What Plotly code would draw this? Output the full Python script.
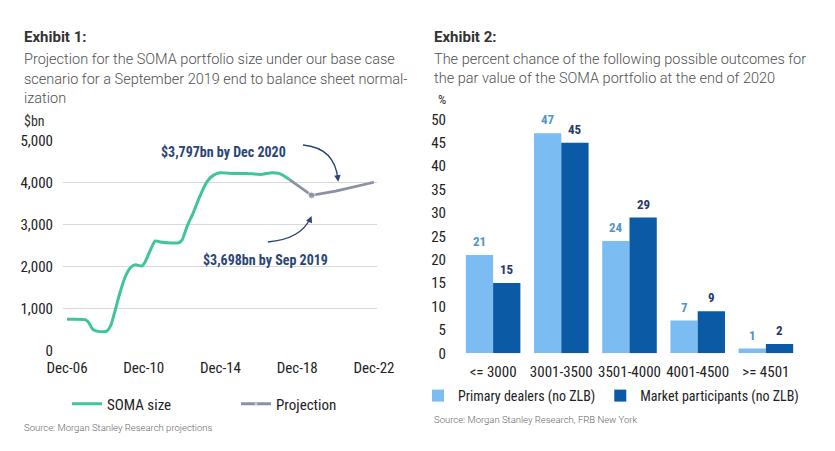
import plotly.graph_objects as go

W, H = 835, 451

# ---------------- data: Exhibit 1 ----------------
soma_years = [2006.92, 2007.86, 2008.03, 2008.29, 2008.64, 2008.99, 2009.2, 2009.43, 2009.69,
              2009.95, 2010.21, 2010.47, 2010.82, 2010.99, 2011.26, 2011.52, 2011.78, 2012.3,
              2012.73, 2012.91, 2013.17, 2013.52, 2013.87, 2014.21, 2014.56, 2014.91, 2015.61,
              2016.3, 2017.0, 2017.61, 2017.96, 2018.22, 2018.5]
soma_values = [745, 735, 677, 494, 450, 462, 597, 955, 1393,
               1752, 1967, 2046, 2014, 2110, 2389, 2611, 2588, 2564,
               2564, 2627, 2946, 3304, 3702, 4021, 4180, 4236, 4220,
               4220, 4196, 4236, 4220, 4164, 4080]
proj_years = [2018.5, 2019.67, 2020.92, 2022.92]
proj_values = [4080, 3698, 3797, 4010]
left_tickvals = [2006.92, 2010.92, 2014.92, 2018.92, 2022.92]
left_ticktext = ["Dec-06", "Dec-10", "Dec-14", "Dec-18", "Dec-22"]
left_yticks = [0, 1000, 2000, 3000, 4000, 5000]

# ---------------- data: Exhibit 2 ----------------
categories = ["<= 3000", "3001-3500", "3501-4000", "4001-4500", ">= 4501"]
primary_dealers = [21, 47, 24, 7, 1]
market_participants = [15, 45, 29, 9, 2]
right_yticks = [0, 5, 10, 15, 20, 25, 30, 35, 40, 45, 50]

NARROW = "Roboto Condensed, Liberation Sans Narrow, Arial Narrow, Roboto, sans-serif"
ROBOTO = "Roboto, sans-serif"
GREEN = "#40c49b"
GREY = "#8b90a5"
LIGHT = "#7bbdf3"
DARK = "#0b5aa6"
NAVY = "#2b4575"
TICK = "#222222"


def px(x):
    return x / W


def py(y):
    return 1 - y / H


fig = go.Figure()

fig.add_trace(go.Scatter(x=soma_years, y=soma_values, mode="lines", name="SOMA size",
                         line=dict(color=GREEN, width=3, shape="spline", smoothing=0.6),
                         legend="legend", xaxis="x", yaxis="y"))
sel = proj_values.index(3698)
fig.add_trace(go.Scatter(x=proj_years, y=proj_values, mode="lines+markers", name="Projection",
                         line=dict(color=GREY, width=2.8),
                         marker=dict(color=GREY, size=[7 if i == sel else 0 for i in range(len(proj_years))]),
                         legend="legend", xaxis="x", yaxis="y"))

fig.add_trace(go.Bar(x=categories, y=primary_dealers, name="Primary dealers (no ZLB)",
                     marker=dict(color=LIGHT, line=dict(width=0)), legend="legend2",
                     xaxis="x2", yaxis="y2"))
fig.add_trace(go.Bar(x=categories, y=market_participants, name="Market participants (no ZLB)",
                     marker=dict(color=DARK, line=dict(width=0)), legend="legend2",
                     xaxis="x2", yaxis="y2"))

annotations = []
# bar value labels
for c, v in zip(categories, primary_dealers):
    annotations.append(dict(x=c, y=v, xref="x2", yref="y2", text=str(v), showarrow=False,
                            xshift=-13.6, yshift=4, yanchor="bottom",
                            font=dict(family=NARROW, size=13, color="#4f95cc", weight="bold")))
for c, v in zip(categories, market_participants):
    annotations.append(dict(x=c, y=v, xref="x2", yref="y2", text=str(v), showarrow=False,
                            xshift=13.6, yshift=4, yanchor="bottom",
                            font=dict(family=NARROW, size=13, color="#1f3a68", weight="bold")))

# titles
def txt(x, y, s, size=15, weight="normal", color="#444", family=ROBOTO, xanchor="left"):
    annotations.append(dict(x=px(x), y=py(y), xref="paper", yref="paper", text=s, showarrow=False,
                            xanchor=xanchor, yanchor="middle",
                            font=dict(family=family, size=size, color=color, weight=weight)))

txt(22, 37, "Exhibit 1:", 15, "bold", "#333")
txt(22, 59, "Projection for the SOMA portfolio size under our base case", 14.5, 300, "#505050")
txt(22, 79, "scenario for a September 2019 end to balance sheet normal-", 14.5, 300, "#505050")
txt(22, 98, "ization", 14.5, 300, "#505050")
txt(22, 121, "$bn", 14, "normal", "#333", NARROW)

txt(432, 37, "Exhibit 2:", 15, "bold", "#333")
txt(432, 59, "The percent chance of the following possible outcomes for", 14.5, 300, "#505050")
txt(432, 78, "the par value of the SOMA portfolio at the end of 2020", 14.5, 300, "#505050")
txt(436, 100, "%", 13, "normal", "#333", NARROW)

txt(22, 427, "Source: Morgan Stanley Research projections", 9.5, 300, "#666")
txt(432, 419, "Source: Morgan Stanley Research, FRB New York", 9.5, 300, "#666")

# callouts on Exhibit 1
txt(223.5, 152, "$3,797bn by Dec 2020", 14, "bold", NAVY, NARROW, "center")
txt(265, 260, "$3,698bn by Sep 2019", 14, "bold", NAVY, NARROW, "center")

annotations.append(dict(x=2021.06, y=4023, xref="x", yref="y", ax=-1, ay=-8, text="",
                        showarrow=True, arrowhead=2, arrowsize=1, arrowwidth=1.3, arrowcolor=NAVY))
annotations.append(dict(x=2019.67, y=3205, xref="x", yref="y", ax=-3, ay=7, text="",
                        showarrow=True, arrowhead=2, arrowsize=1, arrowwidth=1.3, arrowcolor=NAVY))

shapes = [
    dict(type="path", xref="x", yref="y", path="M 2019.22,4898 Q 2020.89,4826 2021.04,4080",
         line=dict(color=NAVY, width=1.3)),
    dict(type="path", xref="x", yref="y", path="M 2017.39,2586 Q 2019.1,2650 2019.6,3150",
         line=dict(color=NAVY, width=1.3)),
]

fig.update_layout(
    width=W, height=H, autosize=False,
    margin=dict(l=0, r=0, t=0, b=0, autoexpand=False),
    paper_bgcolor="white", plot_bgcolor="white",
    barmode="group", bargap=0.2, bargroupgap=0,
    annotations=annotations, shapes=shapes,
    xaxis=dict(domain=[px(63), px(377)], range=[2006.71, 2023.08], tickvals=left_tickvals,
               ticktext=left_ticktext, showgrid=False, zeroline=False, showline=False, ticks="",
               tickfont=dict(family=NARROW, size=15, color=TICK), ticklabelstandoff=6, anchor="y",
               automargin=False),
    yaxis=dict(domain=[py(351.34), py(139.86)], range=[-20, 5020], tickvals=left_yticks,
               tickformat=",", showgrid=True, gridcolor="#d9d9d9", gridwidth=1, zeroline=False,
               showline=False, ticks="", tickfont=dict(family=NARROW, size=15, color=TICK),
               ticklabelstandoff=9, anchor="x", automargin=False),
    xaxis2=dict(domain=[px(459), px(800)], type="category", range=[-0.5, 4.5], showgrid=False,
                zeroline=False, showline=False, ticks="", anchor="y2", automargin=False,
                tickfont=dict(family=NARROW, size=15, color=TICK), ticklabelstandoff=8),
    yaxis2=dict(domain=[py(353.3), py(119.3)], range=[0, 50], tickvals=right_yticks,
                showgrid=False, zeroline=False, showline=False, ticks="", anchor="x2", automargin=False,
                tickfont=dict(family=NARROW, size=15, color=TICK), ticklabelstandoff=12),
    legend=dict(orientation="h", x=px(67), y=py(404), xanchor="left", yanchor="middle",
                font=dict(family=NARROW, size=15, color=TICK), entrywidth=124, bgcolor="rgba(0,0,0,0)",
                itemwidth=30, tracegroupgap=0),
    legend2=dict(orientation="h", x=px(418), y=py(396), xanchor="left", yanchor="middle",
                 font=dict(family=NARROW, size=14, color=TICK), bgcolor="rgba(0,0,0,0)",
                 itemwidth=30, traceorder="normal"),
    showlegend=True,
)

fig.write_html("out.html", config={"displayModeBar": False},
               post_script="document.body.style.margin='0';")
